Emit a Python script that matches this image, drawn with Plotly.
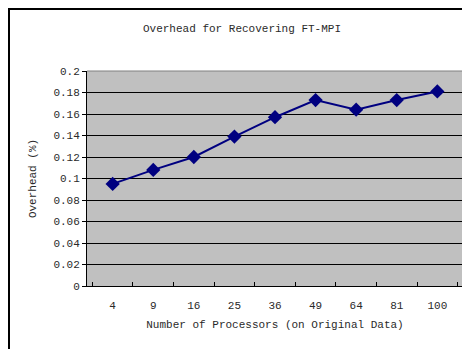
import plotly.graph_objects as go

processors = ["4", "9", "16", "25", "36", "49", "64", "81", "100"]
overhead = [0.095, 0.108, 0.120, 0.139, 0.157, 0.173, 0.164, 0.173, 0.181]
y_ticks = [0, 0.02, 0.04, 0.06, 0.08, 0.1, 0.12, 0.14, 0.16, 0.18, 0.2]

FONT = "Liberation Mono"
TXT = "#2a2a2a"

W, H = 462, 341          # page body has an 8px margin
L, R, T, B = 79, 7, 63, 63
PW, PH = W - L - R, H - T - B

fig = go.Figure()
fig.add_trace(go.Scatter(
    x=processors, y=overhead, mode="lines+markers",
    line=dict(color="#000080", width=2),
    marker=dict(symbol="diamond", size=11, color="#000080"),
    showlegend=False, cliponaxis=False,
))

fig.update_layout(
    width=W, height=H,
    margin=dict(l=L, r=R, t=T, b=B),
    paper_bgcolor="white", plot_bgcolor="#C0C0C0",
    font=dict(family=FONT, size=11, color=TXT),
    title=dict(text="Overhead for Recovering FT-MPI", x=234 / W, xanchor="center",
               y=1 - 20 / H, yanchor="middle", font=dict(family=FONT, size=11, color=TXT)),
    xaxis=dict(type="category", tickson="boundaries", ticks="inside", ticklen=4,
               tickcolor="black", showgrid=False, showline=True, linecolor="black",
               linewidth=1, mirror=False, zeroline=False, ticklabelstandoff=9,
               title=dict(text="Number of Processors (on Original Data)", standoff=9,
                          font=dict(family=FONT, size=11, color=TXT)),
               tickfont=dict(family=FONT, size=11, color=TXT)),
    yaxis=dict(range=[0, 0.2], tickvals=y_ticks, ticks="outside", ticklen=4,
               tickcolor="black", showgrid=True, gridcolor="black", gridwidth=1,
               showline=True, linecolor="black", linewidth=1, zeroline=False,
               title=dict(text="Overhead (%)", standoff=14,
                          font=dict(family=FONT, size=11, color=TXT)),
               tickfont=dict(family=FONT, size=11, color=TXT)),
)

# plot area border (gray, top/right)
fig.add_shape(type="line", xref="paper", yref="paper", x0=0, x1=1, y0=1, y1=1,
              line=dict(color="#808080", width=1))
fig.add_shape(type="line", xref="paper", yref="paper", x0=1, x1=1, y0=0, y1=1,
              line=dict(color="#808080", width=1))
# outer chart frame (left and top edges visible)
fig.add_shape(type="rect", xref="paper", yref="paper",
              x0=(1 - L) / PW, x1=(W + 20 - L) / PW,
              y0=-(B + 20) / PH, y1=(PH + T - 1) / PH,
              line=dict(color="black", width=2), layer="below")

fig.write_html("out.html")
